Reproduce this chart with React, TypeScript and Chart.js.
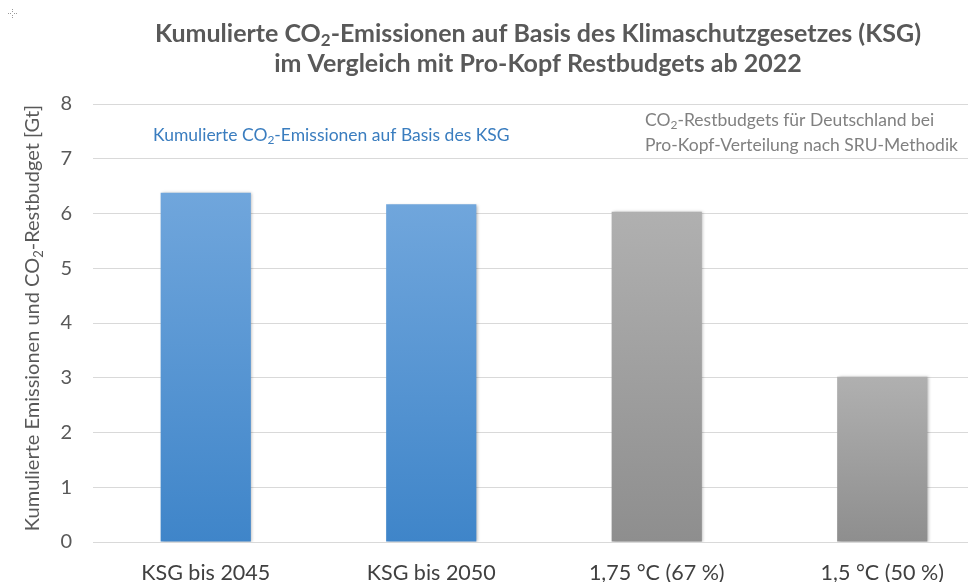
import React, { useEffect, useRef } from "react";
import { Chart, registerables } from "chart.js";
Chart.register(...registerables);

// ---- data ----
const categories = ["KSG bis 2045", "KSG bis 2050", "1,75 °C (67 %)", "1,5 °C (50 %)"];
const values = [6.38, 6.17, 6.03, 3.02];
const barKinds = ["ksg", "ksg", "budget", "budget"];
const yMin = 0;
const yMax = 8;
const yStep = 1;

type Part = { t: string; sub?: boolean };
const titleLine1: Part[] = [
  { t: "Kumulierte CO" },
  { t: "2", sub: true },
  { t: "-Emissionen auf Basis des Klimaschutzgesetzes (KSG)" },
];
const titleLine2: Part[] = [{ t: "im Vergleich mit Pro-Kopf Restbudgets ab 2022" }];
const yAxisTitle: Part[] = [
  { t: "Kumulierte Emissionen und CO" },
  { t: "2", sub: true },
  { t: "-Restbudget [Gt]" },
];
const noteKsg: Part[] = [
  { t: "Kumulierte CO" },
  { t: "2", sub: true },
  { t: "-Emissionen auf Basis des KSG" },
];
const noteBudget1: Part[] = [
  { t: "CO" },
  { t: "2", sub: true },
  { t: "-Restbudgets für Deutschland bei" },
];
const noteBudget2: Part[] = [{ t: "Pro-Kopf-Verteilung nach SRU-Methodik" }];

const FONT = "Lato, 'Open Sans', sans-serif";

const colors: Record<string, [string, string]> = {
  ksg: ["#70a6dc", "#3f85c9"],
  budget: ["#b0b0b0", "#8e8e8e"],
};

function drawRich(
  ctx: CanvasRenderingContext2D,
  parts: Part[],
  x: number,
  y: number,
  size: number,
  weight: string,
  color: string,
  align: "left" | "center" | "right"
) {
  const mainFont = `${weight} ${size}px ${FONT}`;
  const subFont = `${weight} ${Math.round(size * 0.66)}px ${FONT}`;
  const widths = parts.map((p) => {
    ctx.font = p.sub ? subFont : mainFont;
    return ctx.measureText(p.t).width;
  });
  const total = widths.reduce((a, b) => a + b, 0);
  let cx = align === "left" ? x : align === "center" ? x - total / 2 : x - total;
  ctx.fillStyle = color;
  ctx.textBaseline = "middle";
  ctx.textAlign = "left";
  parts.forEach((p, i) => {
    ctx.font = p.sub ? subFont : mainFont;
    ctx.fillText(p.t, cx, p.sub ? y + size * 0.28 : y);
    cx += widths[i];
  });
}

const textPlugin = {
  id: "texts",
  afterDraw(chart: any) {
    const ctx: CanvasRenderingContext2D = chart.ctx;
    ctx.save();
    drawRich(ctx, titleLine1, 538, 34, 25, "bold", "#595959", "center");
    drawRich(ctx, titleLine2, 538, 64, 25, "bold", "#595959", "center");
    drawRich(ctx, noteKsg, 153, 135, 17.5, "normal", "#3a7dbf", "left");
    drawRich(ctx, noteBudget1, 645, 120, 17.5, "normal", "#808080", "left");
    drawRich(ctx, noteBudget2, 645, 145, 17.5, "normal", "#808080", "left");
    ctx.translate(33, 318);
    ctx.rotate(-Math.PI / 2);
    drawRich(ctx, yAxisTitle, 0, 0, 20, "normal", "#595959", "center");
    ctx.restore();
    // small marker at top-left
    ctx.save();
    ctx.fillStyle = "#9a9a9a";
    [[12, 9], [12, 11], [12, 15], [12, 17], [8, 13], [10, 13], [14, 13], [16, 13]].forEach(([px, py]) =>
      ctx.fillRect(px, py, 1, 1)
    );
    ctx.restore();
  },
};

const shadowPlugin = {
  id: "barShadow",
  beforeDatasetsDraw(chart: any) {
    const ctx = chart.ctx;
    ctx.save();
    ctx.shadowColor = "rgba(0,0,0,0.28)";
    ctx.shadowBlur = 3;
    ctx.shadowOffsetX = 1.5;
    ctx.shadowOffsetY = 0.5;
  },
  afterDatasetsDraw(chart: any) {
    chart.ctx.restore();
  },
};

export default function App() {
  const ref = useRef<HTMLCanvasElement | null>(null);
  useEffect(() => {
    if (!ref.current) return;
    const chart = new Chart(ref.current, {
      type: "bar",
      data: {
        labels: categories,
        datasets: [
          {
            data: values,
            barPercentage: 0.4,
            categoryPercentage: 1.0,
            borderWidth: 0,
            backgroundColor: (c: any) => {
              const kind = barKinds[c.dataIndex] || "ksg";
              const [top, bot] = colors[kind];
              const chart = c.chart;
              if (c.type !== "data" || !chart.chartArea) return bot;
              const ys = chart.scales.y;
              const y0 = ys.getPixelForValue(c.raw);
              const y1 = ys.getPixelForValue(0);
              const g = chart.ctx.createLinearGradient(0, y0, 0, y1);
              g.addColorStop(0, top);
              g.addColorStop(1, bot);
              return g;
            },
          },
        ],
      },
      options: {
        responsive: false,
        devicePixelRatio: 1,
        animation: false,
        events: [],
        layout: { padding: { left: 0, right: 0, top: 104, bottom: 0 } },
        plugins: { legend: { display: false }, tooltip: { enabled: false }, title: { display: false } },
        scales: {
          x: {
            grid: { display: false, drawTicks: false },
            border: { display: false },
            ticks: {
              color: "#404040",
              font: { family: FONT, size: 21.5 },
              padding: 18,
              maxRotation: 0,
            },
            afterFit: (s: any) => {
              s.height = 40;
            },
          },
          y: {
            min: yMin,
            max: yMax,
            ticks: {
              stepSize: yStep,
              color: "#595959",
              font: { family: FONT, size: 20 },
              padding: 21,
            },
            grid: { color: "#d9d9d9", lineWidth: 1, drawTicks: false },
            border: { display: false },
            afterFit: (s: any) => {
              s.width = 93;
            },
          },
        },
      },
      plugins: [shadowPlugin, textPlugin],
    });
    return () => chart.destroy();
  }, []);
  return (
    <div
      style={{
        position: "fixed",
        left: 0,
        top: 0,
        width: 968,
        height: 582,
        overflow: "hidden",
        background: "#fff",
      }}
    >
      <canvas ref={ref} width={995} height={582} style={{ display: "block", width: 995, height: 582 }} />
    </div>
  );
}
